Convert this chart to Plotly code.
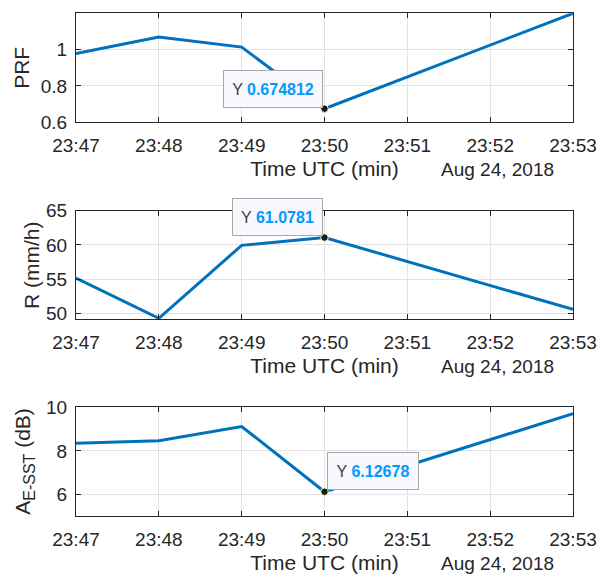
import plotly.graph_objects as go

# ---- data ----
times = ["2018-08-24 23:47:00", "2018-08-24 23:48:00", "2018-08-24 23:49:00",
         "2018-08-24 23:50:00", "2018-08-24 23:53:00"]
prf = [0.978, 1.069, 1.014, 0.674812, 1.2]
rain = [55.15, 49.3, 59.94, 61.0781, 50.59]
aesst = [8.35, 8.47, 9.12, 6.12678, 9.71]
tip_index = 3
ylabels = ["PRF", "R (mm/h)",
           "A<sub><span style='font-size:16px'>E-SST</span></sub> (dB)"]
xlabel = "Time UTC (min)"
date_label = "Aug 24, 2018"
series = [prf, rain, aesst]

W, H = 598, 574
FONT = "Arial, Liberation Sans, Helvetica, sans-serif"
TXT = "#262626"
LINE = "#0072BD"

# pixel geometry
x0, x1 = 76, 573
panels = [(13.3, 122.3), (210.7, 319.3), (407.3, 516.3)]
yranges = [[0.6, 1.2], [49.15, 65], [5, 10]]
ytickvals = [[0.6, 0.8, 1.0], [50, 55, 60, 65], [6, 8, 10]]
yticktext = [["0.6", "0.8", "1"], ["50", "55", "60", "65"], ["6", "8", "10"]]
ylab_x = [22, 31, 24]

fig = go.Figure()
layout = dict(width=W, height=H, margin=dict(l=0, r=0, t=0, b=0),
              paper_bgcolor="white", plot_bgcolor="white", showlegend=False,
              font=dict(family=FONT, color=TXT, size=19))
annotations = []

for i, (top, bot) in enumerate(panels):
    n = "" if i == 0 else str(i + 1)
    xa, ya = "x" + n, "y" + n
    fig.add_trace(go.Scatter(x=times, y=series[i], mode="lines",
                             line=dict(color=LINE, width=3),
                             xaxis=xa, yaxis=ya, hoverinfo="skip"))
    fig.add_trace(go.Scatter(x=[times[tip_index]], y=[series[i][tip_index]], mode="markers",
                             marker=dict(color="#1a1a1a", size=7.5,
                                         line=dict(color="#ffffb0", width=1)),
                             xaxis=xa, yaxis=ya, hoverinfo="skip"))
    dom_y = [1 - bot / H, 1 - top / H]
    layout["xaxis" + n] = dict(
        domain=[x0 / W, x1 / W], anchor=ya, type="date",
        range=["2018-08-24 23:47:00", "2018-08-24 23:53:00"],
        dtick=60000, tickformat="%H:%M", tick0="2018-08-24 23:47:00",
        showline=True, linecolor=TXT, linewidth=1, mirror="ticks",
        ticks="inside", ticklen=5, tickcolor=TXT,
        showgrid=True, gridcolor="#e3e3e3", gridwidth=1,
        tickfont=dict(size=19, color=TXT, family=FONT),
        ticklabelstandoff=6,
        title=dict(text=xlabel, font=dict(size=21, color=TXT, family=FONT), standoff=6),
        automargin=False, zeroline=False)
    layout["yaxis" + n] = dict(
        domain=dom_y, anchor=xa, range=yranges[i],
        tickvals=ytickvals[i], ticktext=yticktext[i],
        showline=True, linecolor=TXT, linewidth=1, mirror="ticks",
        ticks="inside", ticklen=5, tickcolor=TXT,
        showgrid=True, gridcolor="#e3e3e3", gridwidth=1,
        tickfont=dict(size=19, color=TXT, family=FONT),
        ticklabelstandoff=4,
        automargin=False, zeroline=False)
    # y label
    annotations.append(dict(
        text=ylabels[i], xref="paper", yref="paper",
        x=ylab_x[i] / W, y=1 - ((top + bot) / 2) / H,
        xanchor="center", yanchor="middle", textangle=-90, showarrow=False,
        font=dict(size=21, color=TXT, family=FONT)))
    # date label
    annotations.append(dict(
        text=date_label, xref="paper", yref="paper",
        x=556 / W, y=1 - (bot + 47) / H, xanchor="right", yanchor="middle",
        showarrow=False, font=dict(size=19, color=TXT, family=FONT)))

# data tips
tip_cfg = [dict(xanchor="right", yanchor="bottom", xshift=-2, yshift=1, width=90),
           dict(xanchor="right", yanchor="bottom", xshift=-2, yshift=2, width=81),
           dict(xanchor="left", yanchor="bottom", xshift=2, yshift=2, width=82)]
for i in range(3):
    n = "" if i == 0 else str(i + 1)
    val = series[i][tip_index]
    vs = f"{val:.6g}"
    cfg = tip_cfg[i]
    annotations.append(dict(
        text=f"<span style='color:#404040'>Y</span> <b><span style='color:#0099ff'>{vs}</span></b>",
        x=times[tip_index], y=val, xref="x" + n, yref="y" + n,
        showarrow=False, xanchor=cfg["xanchor"], yanchor=cfg["yanchor"],
        xshift=cfg["xshift"], yshift=cfg["yshift"],
        width=cfg["width"], height=28, align="center", valign="middle",
        bgcolor="#f8f8fe", bordercolor="#a8a8a8", borderwidth=1, borderpad=4,
        font=dict(size=16, family=FONT)))

layout["annotations"] = annotations
fig.update_layout(**layout)
fig.write_html("out.html")
